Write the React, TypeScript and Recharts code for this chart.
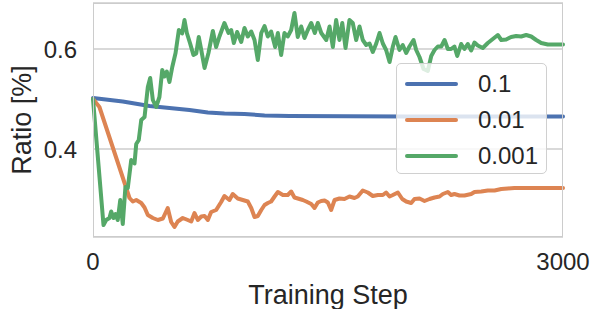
import { CartesianGrid, Legend, Line, LineChart, XAxis, YAxis } from "recharts";

const seriesNames = ["0.1", "0.01", "0.001"];
const seriesColors = ["#4c72b0", "#dd8452", "#55a868"];

const blueSteps = [0, 190, 361, 488, 616, 733, 839, 967, 1095, 1254, 2000, 3000];
const blueValues = [0.502, 0.495, 0.486, 0.482, 0.478, 0.473, 0.471, 0.47, 0.467, 0.466, 0.465, 0.465];

const orangeSteps = [
  0, 41, 212, 233, 254, 276, 308, 329, 350, 382, 414, 446, 477, 499, 520, 541, 573, 605, 627, 648,
  669, 691, 712, 733, 754, 786, 818, 839, 871, 892, 924, 956, 988, 1010, 1031, 1052, 1074, 1095, 1116, 1137,
  1159, 1180, 1212, 1243, 1265, 1286, 1318, 1339, 1361, 1393, 1414, 1435, 1457, 1478, 1499, 1520, 1542, 1573, 1605, 1637,
  1669, 1690, 1722, 1754, 1786, 1818, 1850, 1871, 1893, 1914, 1946, 1974, 1999, 2031, 2052, 2084, 2116, 2148, 2180, 2212,
  2233, 2265, 2286, 2307, 2339, 2371, 2414, 2435, 2478, 2520, 2563, 2606, 2648, 2690, 2733, 3000,
];
const orangeValues = [
  0.5, 0.484, 0.322, 0.302, 0.295, 0.298, 0.292, 0.283, 0.268, 0.262, 0.258, 0.261, 0.282, 0.254, 0.244, 0.255, 0.262, 0.258, 0.255, 0.272,
  0.258, 0.265, 0.266, 0.258, 0.274, 0.278, 0.294, 0.306, 0.298, 0.31, 0.301, 0.298, 0.295, 0.282, 0.264, 0.266, 0.278, 0.288, 0.292, 0.295,
  0.305, 0.314, 0.308, 0.308, 0.315, 0.303, 0.3, 0.298, 0.295, 0.29, 0.282, 0.293, 0.296, 0.297, 0.293, 0.278, 0.298, 0.301, 0.3, 0.305,
  0.302, 0.305, 0.317, 0.313, 0.306, 0.308, 0.308, 0.313, 0.305, 0.308, 0.313, 0.3, 0.295, 0.292, 0.3, 0.301, 0.296, 0.3, 0.303, 0.305,
  0.31, 0.314, 0.308, 0.31, 0.307, 0.307, 0.31, 0.314, 0.315, 0.317, 0.317, 0.32, 0.321, 0.322, 0.322, 0.322,
];

const greenSteps = [
  0, 67, 84, 105, 116, 131, 144, 158, 174, 190, 207, 222, 244, 265, 276, 292, 308, 329, 350, 365,
  382, 403, 424, 442, 456, 471, 488, 506, 527, 548, 569, 584, 599, 620, 641, 659, 675, 691, 712, 737,
  765, 786, 807, 839, 865, 882, 899, 920, 946, 967, 988, 1010, 1031, 1052, 1074, 1095, 1116, 1137, 1163, 1180,
  1201, 1222, 1243, 1265, 1286, 1307, 1329, 1350, 1371, 1393, 1416, 1435, 1457, 1489, 1510, 1531, 1552, 1573, 1591, 1612,
  1637, 1658, 1680, 1701, 1722, 1744, 1765, 1786, 1808, 1829, 1850, 1871, 1893, 1914, 1931, 1956, 1977, 1999, 2020, 2046,
  2063, 2084, 2110, 2137, 2159, 2180, 2201, 2223, 2244, 2265, 2286, 2307, 2325, 2350, 2371, 2392, 2414, 2435, 2456, 2488,
  2520, 2552, 2584, 2606, 2637, 2669, 2701, 2733, 2765, 2797, 2829, 2861, 2903, 3000,
];
const greenValues = [
  0.5, 0.248, 0.258, 0.262, 0.275, 0.262, 0.27, 0.258, 0.298, 0.25, 0.324, 0.322, 0.378, 0.371, 0.41, 0.418, 0.458, 0.464, 0.524, 0.542,
  0.498, 0.484, 0.504, 0.558, 0.545, 0.555, 0.534, 0.564, 0.592, 0.638, 0.631, 0.658, 0.632, 0.611, 0.588, 0.591, 0.624, 0.598, 0.562, 0.592,
  0.636, 0.604, 0.625, 0.652, 0.632, 0.638, 0.612, 0.634, 0.614, 0.642, 0.625, 0.635, 0.618, 0.578, 0.632, 0.646, 0.625, 0.635, 0.604, 0.632,
  0.588, 0.632, 0.625, 0.638, 0.672, 0.624, 0.645, 0.622, 0.638, 0.652, 0.632, 0.652, 0.632, 0.618, 0.645, 0.604, 0.658, 0.618, 0.652, 0.602,
  0.658, 0.652, 0.618, 0.645, 0.618, 0.608, 0.611, 0.594, 0.611, 0.632, 0.611, 0.598, 0.574, 0.605, 0.624, 0.598, 0.608, 0.592, 0.605, 0.618,
  0.598, 0.584, 0.56, 0.556, 0.586, 0.598, 0.605, 0.605, 0.618, 0.6, 0.6, 0.605, 0.586, 0.61, 0.6, 0.61, 0.597, 0.613, 0.607, 0.602,
  0.612, 0.62, 0.628, 0.618, 0.619, 0.624, 0.626, 0.625, 0.628, 0.625, 0.618, 0.612, 0.609, 0.609,
];

const xTicks = [0, 3000];
const yTicks = [0.4, 0.6];

const toPoints = (steps: number[], values: number[]) => steps.map((step, i) => ({ step, value: values[i] }));

const series = [
  toPoints(blueSteps, blueValues),
  toPoints(orangeSteps, orangeValues),
  toPoints(greenSteps, greenValues),
];

const FONT = '"Liberation Sans", Arial, sans-serif';
const TEXT = "#262626";

function LegendBox({ payload }: any) {
  // keep the plotting order (recharts sorts legend items by name otherwise)
  const items = [...(payload || [])].sort(
    (a: any, b: any) => seriesNames.indexOf(a.value) - seriesNames.indexOf(b.value)
  );
  return (
    <div
      style={{
        width: 151,
        height: 111,
        boxSizing: "border-box",
        border: "1.5px solid #d0d0d0",
        borderRadius: 5,
        background: "rgba(255,255,255,0.8)",
        paddingTop: 2,
        fontFamily: FONT,
        fontSize: 24,
        color: TEXT,
      }}
    >
      {items.map((item: any) => (
        <div key={item.value} style={{ display: "flex", alignItems: "center", height: 36 }}>
          <div style={{ marginLeft: 8, width: 53, height: 4, borderRadius: 2, background: item.color }} />
          <span style={{ marginLeft: 20 }}>{item.value}</span>
        </div>
      ))}
    </div>
  );
}

function YLabel() {
  return (
    <text
      x={31}
      y={120}
      transform="rotate(-90 31 120)"
      textAnchor="middle"
      fill={TEXT}
      fontSize={27}
      fontFamily={FONT}
    >
      Ratio [%]
    </text>
  );
}

export default function App() {
  return (
    <div style={{ position: "absolute", left: 0, top: 0, width: 592, height: 309, background: "#fff" }}>
      <LineChart width={592} height={309} margin={{ top: 3, right: 29, left: 0, bottom: 0 }}>
        <CartesianGrid vertical={false} stroke="#cccccc" strokeWidth={1.5} />
        <XAxis
          dataKey="step"
          type="number"
          domain={[0, 3000]}
          ticks={xTicks}
          height={72}
          axisLine={false}
          tickLine={false}
          tickSize={0}
          tickMargin={16}
          tick={{ fill: TEXT, fontSize: 24, fontFamily: FONT }}
          allowDuplicatedCategory={false}
          label={{ value: "Training Step", position: "insideBottom", offset: 5, fill: TEXT, fontSize: 27, fontFamily: FONT }}
        />
        <YAxis
          type="number"
          domain={[0.224, 0.692]}
          ticks={yTicks}
          width={93}
          allowDataOverflow
          axisLine={false}
          tickLine={false}
          tickSize={0}
          tickMargin={16}
          tickFormatter={(v: number) => v.toFixed(1)}
          tick={{ fill: TEXT, fontSize: 24, fontFamily: FONT }}
          label={<YLabel />}
        />
        {series.map((data, i) => (
          <Line
            key={seriesNames[i]}
            data={data}
            dataKey="value"
            name={seriesNames[i]}
            type="linear"
            stroke={seriesColors[i]}
            strokeWidth={4}
            strokeLinejoin="round"
            strokeLinecap="round"
            dot={false}
            activeDot={false}
            isAnimationActive={false}
          />
        ))}
        <Legend
          layout="horizontal"
          align="center"
          verticalAlign="middle"
          content={<LegendBox />}
          wrapperStyle={{ left: 396, top: 63, width: 151, height: 111 }}
        />
      </LineChart>
      <div
        style={{
          position: "absolute",
          left: 93,
          top: 3,
          width: 470,
          height: 234,
          boxSizing: "border-box",
          border: "1.5px solid #cccccc",
          pointerEvents: "none",
        }}
      />
    </div>
  );
}
